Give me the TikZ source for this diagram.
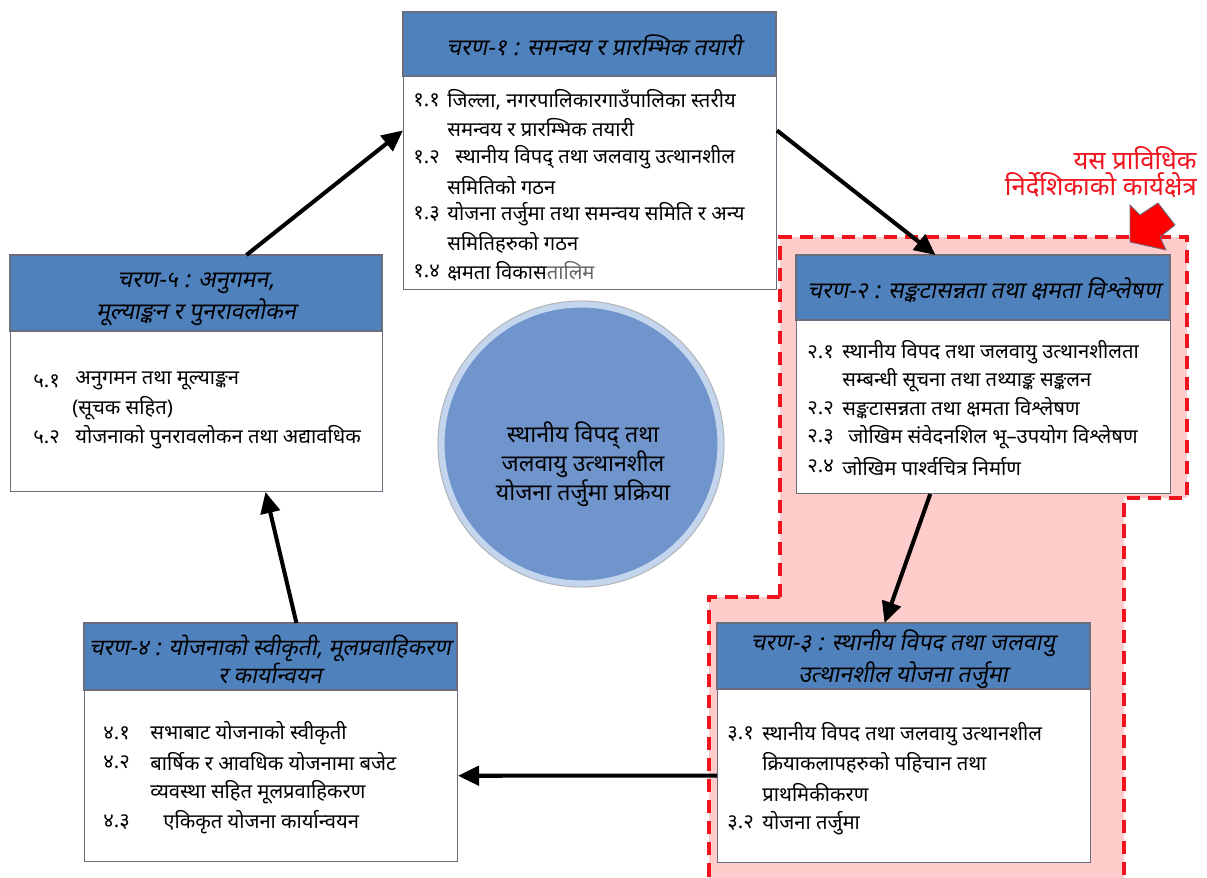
\documentclass[tikz,border=0pt]{standalone}
\usepackage{fontspec}
\setmainfont{Noto Sans}[Script=Devanagari]
\newfontfamily\devfont[Script=Devanagari]{Noto Sans}
\newfontfamily\devslant[Script=Devanagari,FakeSlant=0.2]{Noto Sans}
\usetikzlibrary{arrows.meta,calc}
\definecolor{hdrblue}{RGB}{79,129,189}
\definecolor{boxline}{RGB}{105,110,125}
\definecolor{pinkfill}{RGB}{255,204,204}
\definecolor{redline}{RGB}{240,20,30}
\definecolor{cblue}{RGB}{112,148,204}
\definecolor{crim}{RGB}{196,214,238}
\tikzset{
  stagebox/.style={draw=boxline, fill=white, line width=0.6pt, inner sep=0pt, anchor=north west},
  hdrfill/.style={draw=boxline, fill=hdrblue, line width=0.6pt},
  hdrtext/.style={inner sep=0pt, align=center, font=\devslant\fontsize{13.2}{18}\selectfont},
  txt/.style={anchor=west, inner sep=0pt, font=\devfont\fontsize{11.5}{14}\selectfont},
  flow/.style={line width=2.3pt, -{Triangle[length=12pt,width=11pt]}},
}
\begin{document}
\begin{tikzpicture}[x=0.02cm,y=-0.02cm]
\useasboundingbox (0,0) rectangle (1207,877);
% scope region
\path[fill=pinkfill] (780,237) -- (1187,237) -- (1187,498) -- (1124,498) -- (1124,890) -- (709,890) -- (709,597) -- (780,597) -- cycle;
\draw[redline, line width=2.3pt, dash pattern=on 7.5pt off 4.5pt] (780,597) -- (780,237) -- (1187,237) -- (1187,498) -- (1124,498) -- (1124,890);
\draw[redline, line width=2.3pt, dash pattern=on 7.5pt off 4.5pt] (780,597) -- (709,597) -- (709,890);
\draw[boxline, fill=red, line width=0.5pt] (1158,203) -- (1175,225) -- (1160,237) -- (1166,250) -- (1130,242) -- (1130,205) -- (1140,215) -- cycle;
\node[anchor=east, inner sep=0pt, text=redline, font=\devfont\fontsize{14.6}{16}\selectfont] (scope1) at (1197,158) {यस प्राविधिक};
\node[anchor=east, inner sep=0pt, text=redline, font=\devfont\fontsize{14.6}{16}\selectfont] (scope2) at (1197,185) {निर्देशिकाको कार्यक्षेत्र};

% circle
\node[circle, fill=cblue, draw=crim, line width=4pt, minimum size=5.6cm] (c) at (581,444) {};
\draw[gray!60, line width=0.5pt] (c.center) circle (2.86cm);
\node[inner sep=0pt, align=center, font=\devfont\bfseries\fontsize{13.2}{16.5}\selectfont] (ctext) at (583,464) {स्थानीय विपद् तथा\\जलवायु उत्थानशील\\योजना तर्जुमा प्रक्रिया};

% box 1
\node[stagebox, minimum width=7.46cm, minimum height=5.54cm] (b1) at (403,12) {};
\draw[hdrfill] (b1.north west) rectangle ++(373,64);
\node[hdrtext] (h1) at (594,45) {चरण-१ : समन्वय र प्रारम्भिक तयारी};
\node[txt] (n11) at (413,100) {१.१};
\node[txt] (t11) at (447,100) {जिल्ला, नगरपालिकारगाउँपालिका स्तरीय};
\node[txt] (t11b) at (447,128) {समन्वय र प्रारम्भिक तयारी};
\node[txt] (n12) at (413,157) {१.२};
\node[txt] (t12) at (455,157) {स्थानीय विपद् तथा जलवायु उत्थानशील};
\node[txt] (t12b) at (447,186) {समितिको गठन};
\node[txt] (n13) at (413,214) {१.३};
\node[txt] (t13) at (447,214) {योजना तर्जुमा तथा समन्वय समिति र अन्य};
\node[txt] (t13b) at (447,243) {समितिहरुको गठन};
\node[txt] (n14) at (413,271) {१.४};
\node[txt] (t14) at (447,271) {क्षमता विकास\textcolor{gray!80!black}{\bfseries तालिम}};

% box 2
\node[stagebox, minimum width=7.48cm, minimum height=4.76cm] (b2) at (796,255) {};
\draw[hdrfill] (b2.north west) rectangle ++(374,65);
\node[hdrtext] (h2) at (984,290) {चरण-२ : सङ्कटासन्नता तथा क्षमता विश्लेषण};
\node[txt] (n21) at (807,352) {२.१};
\node[txt] (t21) at (842,352) {स्थानीय विपद तथा जलवायु उत्थानशीलता};
\node[txt] (t21b) at (842,380) {सम्बन्धी सूचना तथा तथ्याङ्क सङ्कलन};
\node[txt] (n22) at (807,408) {२.२};
\node[txt] (t22) at (842,408) {सङ्कटासन्नता तथा क्षमता विश्लेषण};
\node[txt] (n23) at (807,437) {२.३};
\node[txt] (t23) at (848,437) {जोखिम संवेदनशिल भू–उपयोग विश्लेषण};
\node[txt] (n24) at (807,466) {२.४};
\node[txt] (t24) at (842,466) {जोखिम पार्श्वचित्र निर्माण};

% box 5
\node[stagebox, minimum width=7.44cm, minimum height=4.72cm] (b5) at (10,255) {};
\draw[hdrfill] (b5.north west) rectangle ++(372,76);
\node[hdrtext, font=\devslant\fontsize{13.2}{18.1}\selectfont] (h5) at (196,299) {चरण-५ : अनुगमन,\\मूल्याङ्कन र पुनरावलोकन};
\node[txt] (n51) at (33,381) {५.१};
\node[txt] (t51) at (75,381) {अनुगमन तथा मूल्याङ्कन};
\node[txt] (t51b) at (72,408) {(सूचक सहित)};
\node[txt] (n52) at (33,437) {५.२};
\node[txt] (t52) at (75,437) {योजनाको पुनरावलोकन तथा अद्यावधिक};

% box 3
\node[stagebox, minimum width=7.46cm, minimum height=4.78cm] (b3) at (717,623) {};
\draw[hdrfill] (b3.north west) rectangle ++(373,66);
\node[hdrtext, font=\devslant\fontsize{13.2}{18.1}\selectfont] (h3) at (903,659) {चरण-३ : स्थानीय विपद तथा जलवायु\\उत्थानशील योजना तर्जुमा};
\node[txt] (n31) at (727,734) {३.१};
\node[txt] (t31) at (762,734) {स्थानीय विपद तथा जलवायु उत्थानशील};
\node[txt] (t31b) at (762,763) {क्रियाकलापहरुको पहिचान तथा};
\node[txt] (t31c) at (762,793) {प्राथमिकीकरण};
\node[txt] (n32) at (727,823) {३.२};
\node[txt] (t32) at (762,823) {योजना तर्जुमा};

% box 4
\node[stagebox, minimum width=7.46cm, minimum height=4.76cm] (b4) at (84,623) {};
\draw[hdrfill] (b4.north west) rectangle ++(373,67);
\node[hdrtext, font=\devslant\fontsize{13}{16}\selectfont] (h4) at (270,659) {चरण-४ : योजनाको स्वीकृती, मूलप्रवाहिकरण\\र कार्यान्वयन};
\node[txt] (n41) at (103,733) {४.१};
\node[txt] (t41) at (150,733) {सभाबाट योजनाको स्वीकृती};
\node[txt] (n42) at (103,762) {४.२};
\node[txt] (t42) at (150,762) {बार्षिक र आवधिक योजनामा बजेट};
\node[txt] (t42b) at (150,792) {व्यवस्था सहित मूलप्रवाहिकरण};
\node[txt] (n43) at (103,822) {४.३};
\node[txt] (t43) at (163,822) {एकिकृत योजना कार्यान्वयन};

% connectors
\draw[flow] ($(b1.north east)!0.426!(b1.south east)$) -- ($(b2.north west)!0.372!(b2.north east)$);
\draw[flow] ($(b2.south west)!0.358!(b2.south east)$) -- ($(b3.north west)!0.448!(b3.north east)$);
\draw[flow] ($(b3.north west)!0.636!(b3.south west)$) -- ($(b4.north east)!0.639!(b4.south east)$);
\draw[flow] ($(b4.north west)!0.568!(b4.north east)$) -- ($(b5.south west)!0.685!(b5.south east)$);
\draw[flow] ($(b5.north west)!0.634!(b5.north east)$) -- ($(b1.north west)!0.426!(b1.south west)$);
\end{tikzpicture}
\end{document}
